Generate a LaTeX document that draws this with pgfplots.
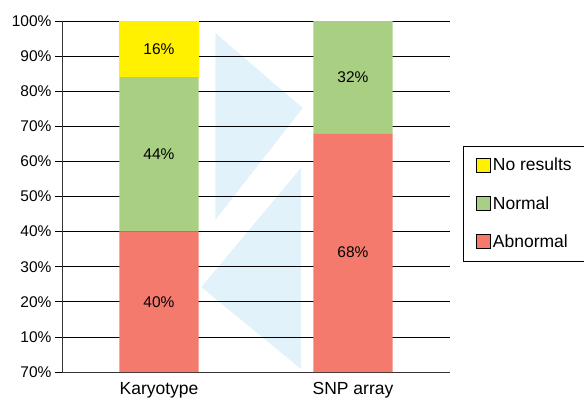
\documentclass[border=0pt]{standalone}
\usepackage{pgfplots}
\pgfplotsset{compat=1.18}
\usepackage{fontspec}
\setmainfont{Liberation Sans}
\definecolor{cyel}{HTML}{FFF100}
\definecolor{cgrn}{HTML}{A9CF83}
\definecolor{cred}{HTML}{F47A6E}
\definecolor{cblu}{HTML}{E2F2FA}
\newcommand{\lblfont}{\fontsize{15.5}{18}\selectfont}
\begin{document}
\begin{tikzpicture}
\useasboundingbox (-62pt,-28pt) rectangle (522pt,372pt);
\begin{axis}[
 scale only axis, width=388pt, height=351pt,
 at={(0,0)}, anchor=south west,
 xmin=-0.5, xmax=1.5, ymin=0, ymax=100,
 hide axis]
\addplot[fill=cblu, draw=none] coordinates {(0.29,96.6) (0.29,43.3) (0.741,75.2) (0.29,96.6)};
\addplot[fill=cblu, draw=none] coordinates {(0.731,58.1) (0.731,0.9) (0.218,24.2) (0.731,58.1)};
\end{axis}
\begin{axis}[
 scale only axis, width=388pt, height=351pt,
 at={(0,0)}, anchor=south west,
 xmin=-0.5, xmax=1.5, ymin=0, ymax=100,
 ybar stacked, bar width=79pt,
 axis x line*=bottom, axis y line*=left,
 axis line style={line width=0.8pt, black!80},
 xtick={0,1}, xticklabels={Karyotype,SNP array},
 x tick label style={font=\fontsize{17.5}{20}\selectfont},
 major x tick style={draw=none},
 ytick={0,10,...,100},
 yticklabels={70\%,10\%,20\%,30\%,40\%,50\%,60\%,70\%,80\%,90\%,100\%},
 y tick label style={font=\lblfont},
 ytick pos=left, tick align=outside,
 major tick length=7pt,
 major y tick style={line width=0.8pt, black},
 ymajorgrids, grid style={black, line width=0.8pt},
 legend style={at={(axis description cs:1.0335,0.644)}, anchor=north west,
   draw=black, line width=0.6pt, font=\fontsize{17.5}{20}\selectfont,
   row sep=20pt, inner xsep=13pt, inner ysep=10pt},
 legend cell align=left,
 reverse legend,
]
\addplot[fill=cred, draw=none, legend image code/.code={\draw[fill=cred, draw=black, line width=0.6pt] (0pt,-7pt) rectangle (14pt,7pt);}] coordinates {(0,40) (1,68)};
\addplot[fill=cgrn, draw=none, legend image code/.code={\draw[fill=cgrn, draw=black, line width=0.6pt] (0pt,-7pt) rectangle (14pt,7pt);}] coordinates {(0,44) (1,32)};
\addplot[fill=cyel, draw=none, legend image code/.code={\draw[fill=cyel, draw=black, line width=0.6pt] (0pt,-7pt) rectangle (14pt,7pt);}] coordinates {(0,16) (1,0)};
\legend{Abnormal,Normal,No results}
\end{axis}
\begin{axis}[
 scale only axis, width=388pt, height=351pt,
 at={(0,0)}, anchor=south west,
 xmin=-0.5, xmax=1.5, ymin=0, ymax=100,
 hide axis]
\addplot[only marks, mark=none, point meta=explicit symbolic, nodes near coords,
  every node near coord/.append style={anchor=center, font=\lblfont, text=black}]
  coordinates {(0,20) [40\%] (0,62) [44\%] (0,92) [16\%] (1,34) [68\%] (1,84) [32\%]};
\end{axis}
\end{tikzpicture}
\end{document}
